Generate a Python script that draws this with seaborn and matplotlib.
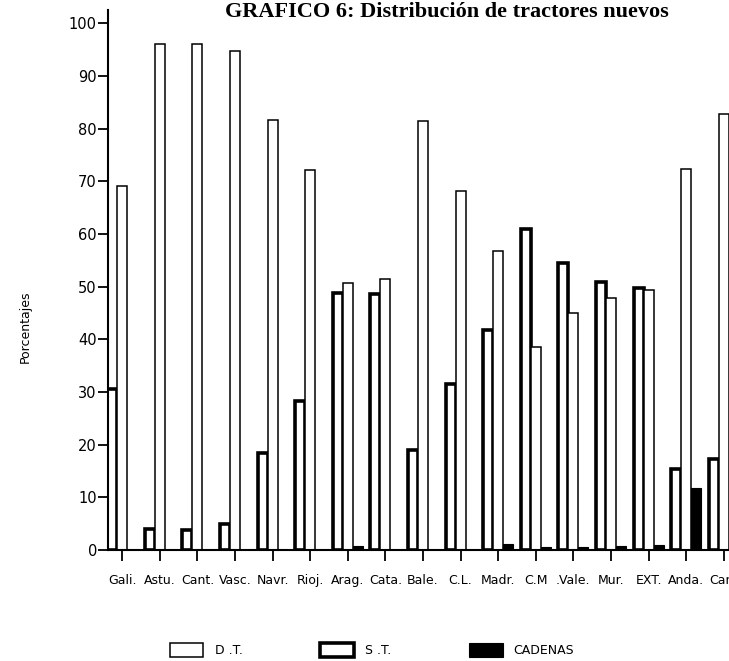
import pandas as pd
import matplotlib
matplotlib.use('Agg')
import matplotlib.pyplot as plt
import seaborn as sns
from matplotlib.patches import Patch

regions = ['Gali.', 'Astu.', 'Cant.', 'Vasc.', 'Navr.', 'Rioj.', 'Arag.', 'Cata.', 'Bale.',
           'C.L.', 'Madr.', 'C.M', '.Vale.', 'Mur.', 'EXT.', 'Anda.', 'Can.']
st = [30.5, 3.9, 3.8, 4.9, 18.5, 28.3, 48.8, 48.6, 19.0, 31.6, 41.7, 61.0, 54.5, 50.9, 49.8, 15.4, 17.3]
dt = [69.1, 96.1, 96.1, 94.7, 81.6, 72.1, 50.7, 51.4, 81.5, 68.1, 56.8, 38.6, 44.9, 47.9, 49.3, 72.4, 82.7]
cadenas = [0, 0, 0, 0, 0, 0, 0.8, 0, 0, 0, 1.1, 0.5, 0.5, 0.8, 0.9, 11.8, 0.3]
tipos = ['S.T.', 'D.T.', 'CADENAS']


def main():
    df = pd.DataFrame({'region': regions * 3,
                       'tipo': ['S.T.'] * len(regions) + ['D.T.'] * len(regions) + ['CADENAS'] * len(regions),
                       'pct': st + dt + cadenas})

    sns.set_style('ticks')
    plt.rcParams['font.family'] = ['DejaVu Sans']
    plt.rcParams['text.color'] = 'black'
    plt.rcParams['axes.labelcolor'] = 'black'

    fig = plt.figure(figsize=(7.29, 6.61), dpi=100)
    ax = fig.add_axes([108 / 729, 1 - 550 / 661, 1 - 108 / 729, 540 / 661])

    sns.barplot(data=df, x='region', y='pct', hue='tipo', hue_order=tipos,
                palette=['white', 'white', 'black'], saturation=1, width=0.8,
                legend=False, ax=ax)
    for cont, lw in zip(ax.containers, [2.6, 1.1, 0.8]):
        for bar in cont:
            bar.set_edgecolor('black')
            bar.set_linewidth(lw)

    ax.set_xlim(-0.38, 16.14)
    ax.set_ylim(0, 102.5)
    ax.set_yticks(range(0, 101, 10))
    ax.tick_params(axis='y', length=7, width=1.3, pad=1, labelsize=10.5, colors='black')
    ax.tick_params(axis='x', length=8, width=1.3, pad=9, labelsize=9, colors='black')
    ax.set_xlabel('')
    ax.set_ylabel('Porcentajes', fontsize=9)
    ax.yaxis.set_label_coords(-0.122, 0.413)
    for s in ['top', 'right']:
        ax.spines[s].set_visible(False)
    for s in ['left', 'bottom']:
        ax.spines[s].set_linewidth(1.5)
        ax.spines[s].set_color('black')

    fig.text(447 / 729, 1 - 17 / 661, 'GRAFICO 6: Distribución de tractores nuevos',
             ha='center', va='baseline', fontsize=16, fontweight='bold',
             family='Liberation Serif')

    handles = [Patch(facecolor='white', edgecolor='black', linewidth=1.1, label='D .T.'),
               Patch(facecolor='white', edgecolor='black', linewidth=2.6, label='S .T.'),
               Patch(facecolor='black', edgecolor='black', linewidth=0.8, label='CADENAS')]
    fig.legend(handles=handles, loc='center', bbox_to_anchor=(372 / 729, 1 - 650 / 661),
               ncol=3, frameon=False, fontsize=9, handlelength=2.7, handleheight=1.4,
               columnspacing=6.2, handletextpad=0.9)

    fig.savefig('out.png', dpi=100)


if __name__ == '__main__':
    main()
